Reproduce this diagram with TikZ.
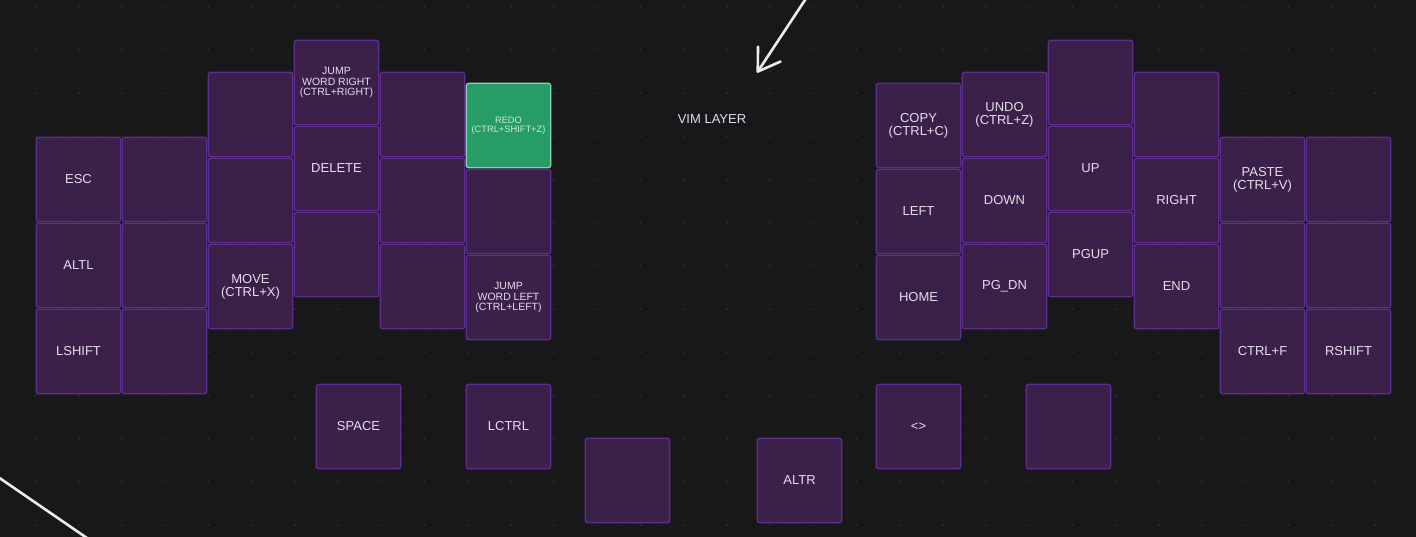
\documentclass[tikz,border=0pt]{standalone}
\usepackage{fontspec}
\setmainfont{Liberation Sans}
\usetikzlibrary{arrows.meta,positioning}
\definecolor{boardbg}{HTML}{18181A}
\definecolor{dotfaint}{HTML}{242427}
\definecolor{dotmain}{HTML}{303034}
\definecolor{keyfill}{HTML}{3B2049}
\definecolor{keyedge}{HTML}{5E2E8E}
\definecolor{keytext}{HTML}{E4DEEA}
\definecolor{redofill}{HTML}{289C66}
\definecolor{redoedge}{HTML}{86D6A8}
\definecolor{redotext}{HTML}{C8ECD6}
\definecolor{penwhite}{HTML}{ECECEC}

\begin{document}
\begin{tikzpicture}[x=1pt,y=-1pt,
    node distance=1.5pt,
    key/.style={draw=keyedge,fill=keyfill,rounded corners=2.5pt,line width=1.3pt,
        minimum width=84.5pt,minimum height=84.5pt,inner sep=0pt,outer sep=0pt,
        align=center,text=keytext,font=\fontsize{13}{13}\selectfont},
    keysmall/.style={key,font=\fontsize{10.5}{10.5}\selectfont},
    keyredo/.style={key,draw=redoedge,fill=redofill,text=redotext,
        font=\fontsize{9.3}{9.2}\selectfont},
    layerlabel/.style={text=keytext,font=\fontsize{13}{13}\selectfont},
    pen/.style={draw=penwhite,line width=2.6pt,line cap=round}
]
\useasboundingbox (0,0) rectangle (1416,537);
\fill[boardbg] (0,0) rectangle (1416,537);
\foreach \i in {0,...,65}
    \foreach \j in {0,...,24}
        \fill[dotfaint] (14.1+21.6*\i,6.7+21.6*\j) circle (0.9pt);
\foreach \i in {0,...,32}
    \foreach \j in {0,...,12}
        \fill[dotmain] (35.7+43.2*\i,6.7+43.2*\j) circle (1pt);

% left half
\node[key] (esc) at (78.5,179.5) {ESC};
\node[key,right=of esc] (lblankA) {};
\node[key,below=of esc] (altl) {ALTL};
\node[key,right=of altl] (lblankB) {};
\node[key,below=of altl] (lshift) {LSHIFT};
\node[key,right=of lshift] (lblankC) {};
\node[key] (lblankD) at (250.5,114.5) {};
\node[key,below=of lblankD] (lblankE) {};
\node[key,below=of lblankE] (move) {MOVE\\(CTRL+X)};
\node[keysmall] (jumpright) at (336.5,82.5) {JUMP\\WORD RIGHT\\(CTRL+RIGHT)};
\node[key,below=of jumpright] (delete) {DELETE};
\node[key,below=of delete] (lblankF) {};
\node[key] (lblankG) at (422.5,114.5) {};
\node[key,below=of lblankG] (lblankH) {};
\node[key,below=of lblankH] (lblankI) {};
\node[keyredo] (redo) at (508.5,125.5) {REDO\\(CTRL+SHIFT+Z)};
\node[key,below=of redo] (lblankJ) {};
\node[keysmall,below=of lblankJ] (jumpleft) {JUMP\\WORD LEFT\\(CTRL+LEFT)};

% thumbs
\node[key] (space) at (358.5,426.5) {SPACE};
\node[key] (lctrl) at (508.5,426.5) {LCTRL};
\node[key] (tblank) at (627.5,480.5) {};
\node[key] (altr) at (799.5,480.5) {ALTR};
\node[key] (angles) at (918.5,426.5) {<>};
\node[key] (rthumb) at (1068.5,426.5) {};

% right half
\node[key] (copy) at (918.5,125.5) {COPY\\(CTRL+C)};
\node[key,below=of copy] (left) {LEFT};
\node[key,below=of left] (home) {HOME};
\node[key] (undo) at (1004.5,114.5) {UNDO\\(CTRL+Z)};
\node[key,below=of undo] (down) {DOWN};
\node[key,below=of down] (pgdn) {PG\_DN};
\node[key] (rblankA) at (1090.5,82.5) {};
\node[key,below=of rblankA] (up) {UP};
\node[key,below=of up] (pgup) {PGUP};
\node[key] (rblankB) at (1176.5,114.5) {};
\node[key,below=of rblankB] (right) {RIGHT};
\node[key,below=of right] (end) {END};
\node[key] (paste) at (1262.5,179.5) {PASTE\\(CTRL+V)};
\node[key,right=of paste] (rblankC) {};
\node[key,below=of paste] (rblankD) {};
\node[key,right=of rblankD] (rblankE) {};
\node[key,below=of rblankD] (ctrlf) {CTRL+F};
\node[key,right=of ctrlf] (rshift) {RSHIFT};

\node[layerlabel] (vimlayer) at (712,119) {VIM LAYER};

\coordinate (penstart) at (810.3,-8);
\coordinate (pentip) at (757,72.7);
\coordinate (strokeA) at (-20,464.6);
\coordinate (strokeB) at (105,550.4);
\begin{scope}
\clip (0,0) rectangle (1416,537);
\draw[pen,-{Straight Barb[length=21pt,width=27pt,round]}] (penstart)--(pentip);
\draw[pen] (strokeA)--(strokeB);
\end{scope}
\end{tikzpicture}
\end{document}
